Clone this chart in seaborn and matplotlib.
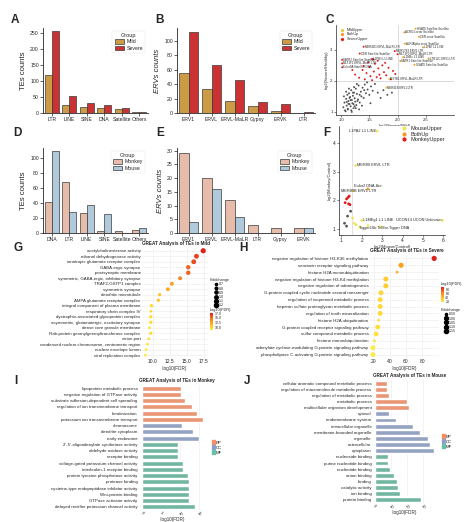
import numpy as np
import pandas as pd
import matplotlib
matplotlib.use("Agg")
import matplotlib.pyplot as plt
import seaborn as sns
from matplotlib.colors import LinearSegmentedColormap, Normalize
from matplotlib.cm import ScalarMappable
from matplotlib.lines import Line2D
from matplotlib.patches import Patch

sns.set_theme(style="ticks")
plt.rcParams["font.family"] = ["Liberation Sans", "DejaVu Sans"]

# ---------------- data ----------------
# A
te_types = ["LTR", "LINE", "SINE", "DNA", "Satellite", "Others"]
te_mild = [120, 25, 18, 15, 12, 2]
te_severe = [255, 52, 31, 24, 16, 3]
# B
erv_types = ["ERV1", "ERVL", "ERVL-MaLR", "Gypsy", "ERVK", "LTR"]
erv_mild = [56, 33, 17, 10, 3, 0]
erv_severe = [112, 66, 46, 15, 12, 1]
# D
sp_te_types = ["DNA", "LTR", "LINE", "SINE", "Satellite", "Others"]
te_monkey = [41, 68, 27, 3, 2, 4]
te_mouse = [109, 28, 37, 25, 0, 6]
# E
sp_erv_types = ["ERV1", "ERVL", "ERVL-MaLR", "LTR", "Gypsy", "ERVK"]
erv_monkey = [29, 20, 12, 3, 2, 2]
erv_mouse = [4, 16, 6, 0, 0, 2]

# C scatter
c_gray_x = [1.04, 1.06, 1.07, 1.09, 1.10, 1.11, 1.12, 1.13, 1.14, 1.15, 1.16, 1.17, 1.18, 1.19, 1.20,
            1.21, 1.22, 1.23, 1.24, 1.25, 1.26, 1.27, 1.28, 1.30, 1.31, 1.33, 1.35, 1.36, 1.38, 1.40,
            1.42, 1.44, 1.47, 1.50, 1.53, 1.56, 1.60, 1.65, 1.08, 1.12, 1.15, 1.19, 1.22, 1.26, 1.29,
            1.33, 1.37, 1.41, 1.10, 1.14, 1.18, 1.21, 1.24, 1.28, 1.32, 1.05, 1.09, 1.13, 1.17, 1.23,
            1.70, 1.75, 1.82, 1.90, 1.46, 1.52]
c_gray_y = [1.15, 1.30, 1.05, 1.42, 1.20, 1.55, 1.10, 1.35, 1.60, 1.25, 1.48, 1.18, 1.70, 1.38, 1.28,
            1.52, 1.12, 1.62, 1.44, 1.33, 1.75, 1.22, 1.58, 1.40, 1.85, 1.30, 1.65, 1.50, 1.78, 1.45,
            1.88, 1.60, 1.72, 1.55, 1.82, 1.68, 1.90, 1.62, 1.02, 1.08, 1.45, 1.00, 1.25, 1.12, 1.35,
            1.55, 1.20, 1.70, 1.32, 1.75, 1.05, 1.62, 1.18, 1.90, 1.08, 1.50, 1.65, 1.26, 1.38, 1.80,
            1.45, 1.70, 1.55, 1.62, 1.95, 1.28]
c_red_x = [1.32, 1.38, 1.42, 1.45, 1.50, 1.52, 1.55, 1.58, 1.60, 1.63, 1.66, 1.68, 1.70, 1.73, 1.76,
           1.80, 1.84, 1.88, 1.92, 1.96, 1.48, 1.57, 1.65, 1.78, 1.40, 1.25, 1.20]
c_red_y = [2.10, 2.35, 2.05, 2.25, 2.45, 2.15, 2.02, 2.30, 2.55, 2.12, 2.40, 2.20, 2.08, 2.50, 2.28,
           2.18, 2.42, 2.05, 2.32, 2.22, 2.60, 2.70, 2.65, 2.58, 2.48, 2.20, 2.35]
c_lab_x = [2.32, 2.12, 2.38, 2.13, 2.45, 1.40, 1.95, 1.33, 2.00, 2.10, 2.05, 2.55, 2.30, 1.02, 1.55,
           1.02, 1.02, 1.85, 1.80]
c_lab_y = [3.68, 3.56, 3.42, 3.20, 3.08, 3.10, 2.96, 2.88, 2.86, 2.76, 2.64, 2.72, 2.52, 2.68, 2.70,
           2.56, 2.44, 2.06, 1.78]
c_lab_text = ["HSATII Satellite Satellite", "ACRO1 centr Satellite", "CER centr Satellite",
              "ALR/Alpha centr Satellite", "L1PA7 L1 LINE", "MER4D1 ERVL-MaLR LTR", "MER57E3 ERV1 LTR",
              "CER Satellite Satellite", "MLT1F2 ERVL-MaLR LTR", "L1MEc L1 LINE", "SATR1 Satellite Satellite",
              "LTR12C ERV1 LTR", "GSATII Satellite Satellite", "SATR2 Satellite Satellite", "L1PB1 L1 LINE",
              "MLT1F1 ERVL-MaLR LTR", "Eulor9A Satellite DNA", "MSTB1 ERVL-MaLR LTR", "MER41B ERV1 LTR"]
c_lab_group = ["BothUp", "BothUp", "BothUp", "BothUp", "BothUp", "SevereUpper", "SevereUpper",
               "SevereUpper", "SevereUpper", "BothUp", "BothUp", "BothUp", "BothUp", "SevereUpper",
               "SevereUpper", "SevereUpper", "SevereUpper", "MildUpper", "MildUpper"]

# F scatter
f_gray_x = [1.30, 1.15, 1.25, 1.45]
f_gray_y = [1.45, 1.20, 1.10, 1.62]
f_red_x = [1.25, 1.32, 1.38, 1.18, 1.35, 1.42]
f_red_y = [2.05, 2.10, 2.15, 1.92, 1.88, 1.85]
f_yel_x = [2.75, 1.70, 1.55, 1.55, 1.62, 1.72, 2.30, 2.90, 5.95, 2.00, 1.90]
f_yel_y = [4.42, 3.22, 2.33, 1.38, 1.20, 1.15, 1.12, 1.08, 1.30, 1.30, 1.06]
f_both_x = [2.30]
f_both_y = [2.40]
f_lab_x = [2.70, 1.75, 2.30, 1.00, 5.90, 2.05, 1.85]
f_lab_y = [4.42, 3.22, 2.50, 2.33, 1.30, 1.30, 1.04]
f_lab_ha = ["right", "left", "center", "left", "right", "left", "left"]
f_lab_text = ["L1PA2 L1 LINE", "MER89 ERVL LTR", "Eulor2 DNA-like", "MER89B ERV1 LTR",
              "UCON14 UCON Unknown", "L1MEg1 L1 LINE", "Tigger16b TcMar-Tigger DNA"]

# G dot plot
g_terms = ["acetylcholinesterase activity", "ethanol dehydrogenase activity",
           "ionotropic glutamate receptor complex", "GABA-ergic synapse", "postsynaptic membrane",
           "symmetric, GABA-ergic, inhibitory synapse", "TRAF2-GSTP1 complex", "symmetric synapse",
           "dendritic microtubule", "AMPA glutamate receptor complex",
           "integral component of plasma membrane", "respiratory chain complex IV",
           "dystrophin-associated glycoprotein complex", "asymmetric, glutamatergic, excitatory synapse",
           "dense core granule membrane", "Rab-protein geranylgeranyltransferase complex", "virion part",
           "condensed nuclear chromosome, centromeric region", "nuclear envelope lumen",
           "viral replication complex"]
g_fdr = [17.4, 16.4, 16.0, 15.2, 15.2, 14.0, 12.8, 12.2, 11.0, 10.8, 9.8, 9.7, 9.7, 9.7, 9.5, 9.7,
         9.4, 9.2, 9.0, 8.9]
g_fold = [1.2, 1.1, 1.1, 1.0, 1.0, 0.9, 0.9, 0.9, 0.8, 0.8, 0.8, 0.7, 0.8, 0.8, 0.7, 0.8, 0.7, 0.7,
          0.7, 0.7]

# H dot plot
h_terms = ["negative regulation of histone H3-K36 methylation", "serotonin receptor signaling pathway",
           "histone H2A monoubiquitination", "negative regulation of histone H3-K4 methylation",
           "negative regulation of odontogenesis",
           "G-protein coupled cyclic nucleotide second messenger",
           "regulation of isoprenoid metabolic process", "heparan sulfate proteoglycan metabolic process",
           "regulation of tooth mineralization", "histone H2A ubiquitination",
           "G-protein coupled receptor signaling pathway", "sulfur compound metabolic process",
           "histone monoubiquitination", "adenylate cyclase-modulating G-protein signaling pathway",
           "phospholipase C-activating G-protein signaling pathway"]
h_fdr = [95, 54, 49, 35, 35, 29, 28, 28, 28, 26, 25, 23, 21, 19, 19]
h_fold = [1.15, 1.15, 0.50, 1.10, 1.10, 1.05, 1.05, 1.05, 1.05, 0.50, 1.00, 1.00, 0.50, 1.00, 1.00]

# I bars
i_terms = ["lipoprotein metabolic process", "negative regulation of GTPase activity",
           "substrate adhesion-dependent cell spreading", "regulation of ion transmembrane transport",
           "keratinization", "potassium ion transmembrane transport", "chromosome", "dendrite cytoplasm",
           "early endosome", "2'-5'-oligoadenylate synthetase activity", "aldehyde oxidase activity",
           "receptor binding", "voltage-gated potassium channel activity", "interleukin-1 receptor binding",
           "protein tyrosine phosphatase activity", "protease binding",
           "cysteine-type endopeptidase inhibitor activity", "Wnt-protein binding",
           "GTPase activator activity", "delayed rectifier potassium channel activity"]
i_vals = [10.3, 10.3, 11.3, 13.3, 14.5, 16.1, 10.5, 13.4, 15.0, 9.6, 9.6, 9.6, 10.7, 10.9, 12.1,
          12.3, 12.5, 12.5, 12.5, 14.0]
i_cat = ["BP"] * 6 + ["CC"] * 3 + ["MF"] * 11

# J bars
j_terms = ["cellular aromatic compound metabolic process", "regulation of macromolecule metabolic process",
           "regulation of metabolic process", "metabolic process", "multicellular organism development",
           "cytosol", "endomembrane system", "intracellular organelle", "membrane-bounded organelle",
           "organelle", "extracellular", "cytoplasm", "nucleoside binding", "purine nucleotide binding",
           "nucleotide binding", "anion binding", "binding", "catalytic activity", "ion binding",
           "protein binding"]
j_vals = [7.6, 7.6, 8.6, 19.8, 21.0, 8.6, 13.1, 23.5, 28.0, 33.0, 34.2, 36.2, 8.2, 8.2, 9.2, 12.1,
          13.7, 14.5, 15.4, 28.5]
j_cat = ["BP"] * 5 + ["CC"] * 7 + ["MF"] * 8

# ---------------- helpers ----------------
W, H = 474, 522


def rect(x0, y0, x1, y1):
    return [x0 / W, 1 - y1 / H, (x1 - x0) / W, (y1 - y0) / H]


def count_bars(ax, cats, a, b, names, colors, ylabel, ylim, yticks, italic=False):
    df = pd.DataFrame({"type": cats * 2, "count": a + b,
                       "Group": [names[0]] * len(cats) + [names[1]] * len(cats)})
    sns.barplot(data=df, x="type", y="count", hue="Group", palette=colors, ax=ax,
                edgecolor="#3a3a3a", linewidth=0.5, width=0.8)
    ax.set_ylim(*ylim)
    ax.set_yticks(yticks)
    ax.set_xlabel("")
    ax.set_ylabel(ylabel, fontsize=5.5, style="italic" if italic else "normal", labelpad=2)
    ax.tick_params(labelsize=3.7, length=2, width=0.5, pad=1)
    for s in ["left", "bottom"]:
        ax.spines[s].set_linewidth(0.6)
    sns.despine(ax=ax)
    leg = ax.legend(title="Group", fontsize=3.8, title_fontsize=4, loc="upper right",
                    frameon=True, handlelength=1.8, handleheight=0.8, borderpad=0.4,
                    labelspacing=0.3, handletextpad=0.5)
    leg.get_frame().set_linewidth(0.3)
    leg.get_frame().set_edgecolor("#dddddd")


def dotplot(ax, terms, vals, folds, vmin, vmax, xlim, xticks, title):
    df = pd.DataFrame({"term": terms, "val": vals, "fold": folds})
    sns.scatterplot(data=df, x="val", y="term", hue="val", hue_norm=(vmin, vmax), palette=dot_cmap,
                    size="fold", sizes=(4, 14), ax=ax, legend=False, edgecolor="none")
    ax.set_ylim(len(terms) - 0.5, -0.5)
    ax.set_xlim(*xlim)
    ax.set_xticks(xticks)
    ax.set_xlabel("-log10(FDR)", fontsize=3.3, labelpad=1)
    ax.set_ylabel("")
    ax.tick_params(axis="y", labelsize=3.2, length=0, pad=1)
    ax.tick_params(axis="x", labelsize=3.6, length=0, pad=1)
    ax.grid(True, color="#ebebeb", linewidth=0.4)
    ax.set_axisbelow(True)
    for s in ax.spines.values():
        s.set_visible(False)
    ax.set_title(title, fontsize=3.3, fontweight="bold", loc="left", pad=2)


def go_bars(ax, terms, vals, cats, xlim, xticks, title):
    df = pd.DataFrame({"term": terms, "val": vals, "cat": cats})
    sns.barplot(data=df, y="term", x="val", hue="cat", palette=go_pal, dodge=False, width=0.8,
                ax=ax, legend=False)
    ax.set_xlim(*xlim)
    ax.set_xticks(xticks)
    ax.set_xlabel("-log10(FDR)", fontsize=3.3, labelpad=0)
    ax.set_ylabel("")
    ax.tick_params(axis="y", labelsize=3.2, length=0, pad=1)
    ax.tick_params(axis="x", labelsize=3.0, length=0, pad=0.5)
    for lab in ax.get_xticklabels():
        lab.set_rotation(-45)
    ax.grid(True, axis="x", color="#ebebeb", linewidth=0.4)
    ax.set_axisbelow(True)
    for s in ax.spines.values():
        s.set_visible(False)
    ax.set_title(title, fontsize=3.3, fontweight="bold", loc="left", pad=2)
    handles = [Patch(color=go_pal[k], label=k) for k in ["BP", "CC", "MF"]]
    ax.legend(handles=handles, loc="center left", bbox_to_anchor=(1.01, 0.5), fontsize=3.2,
              frameon=False, handlelength=0.7, handleheight=0.7, labelspacing=0.2,
              handletextpad=0.3)


dot_cmap = LinearSegmentedColormap.from_list("dots", ["#FFEA3F", "#FDB827", "#F47A20", "#E0201B"])
go_pal = {"BP": "#FC8D62", "CC": "#8DA0CB", "MF": "#66C2A5"}
scatter_pal = {"Other": "#555555", "MildUpper": "#EBC83A", "BothUp": "#F39A1E", "SevereUpper": "#E3191C"}

fig = plt.figure(figsize=(W / 100, H / 100), dpi=100)
fig.patch.set_facecolor("white")

# A
axA = fig.add_axes(rect(43, 28, 148, 113))
count_bars(axA, te_types, te_mild, te_severe, ["Mild", "Severe"], ["#E3A12F", "#E3191C"],
           "TEs counts", (0, 265), [0, 50, 100, 150, 200, 250])
# B
axB = fig.add_axes(rect(177, 28, 315, 113))
count_bars(axB, erv_types, erv_mild, erv_severe, ["Mild", "Severe"], ["#E3A12F", "#E3191C"],
           "ERVs counts", (0, 118), [0, 20, 40, 60, 80, 100], italic=True)
# D
axD = fig.add_axes(rect(43, 148, 148, 233))
count_bars(axD, sp_te_types, te_monkey, te_mouse, ["Monkey", "Mouse"], ["#F2B7A0", "#A9CBE3"],
           "TEs counts", (0, 113), [0, 20, 40, 60, 80, 100])
# E
axE = fig.add_axes(rect(177, 148, 315, 233))
count_bars(axE, sp_erv_types, erv_monkey, erv_mouse, ["Monkey", "Mouse"], ["#F2B7A0", "#A9CBE3"],
           "ERVs counts", (0, 31), [0, 5, 10, 15, 20, 25, 30], italic=True)

# C
axC = fig.add_axes(rect(336, 25, 454, 115))
dfC = pd.DataFrame({
    "x": c_gray_x + c_red_x + c_lab_x,
    "y": c_gray_y + c_red_y + c_lab_y,
    "grp": ["Other"] * len(c_gray_x) + ["SevereUpper"] * len(c_red_x) + c_lab_group,
})
axC.axvline(2.0, color="#cccccc", linewidth=0.5, zorder=0)
axC.axhline(2.0, color="#cccccc", linewidth=0.5, zorder=0)
sns.scatterplot(data=dfC, x="x", y="y", hue="grp", palette=scatter_pal, s=2, linewidth=0,
                ax=axC, legend=False)
for x, y, t in zip(c_lab_x, c_lab_y, c_lab_text):
    axC.text(x + 0.02, y, t, fontsize=2.1, va="center", ha="left")
axC.set_xlim(0.91, 3.0)
axC.set_ylim(0.9, 3.8)
axC.set_xticks([1.0, 1.5, 2.0, 2.5])
axC.set_yticks([1, 2, 3])
axC.set_xlabel("log2(Severe/Mild)", fontsize=3, labelpad=1)
axC.set_ylabel("log2(Severe/Healthy)", fontsize=3, labelpad=1)
axC.tick_params(labelsize=3, length=1.5, width=0.4, pad=1)
for s in ["left", "bottom"]:
    axC.spines[s].set_linewidth(0.5)
sns.despine(ax=axC)
hC = [Line2D([], [], marker="o", ls="", color=scatter_pal[k], markersize=1.3, label=k)
      for k in ["MildUpper", "BothUp", "SevereUpper"]]
axC.legend(handles=hC, loc="upper left", fontsize=2.6, frameon=False, handletextpad=0.2,
           labelspacing=0.15, borderpad=0.3)

# F
axF = fig.add_axes(rect(339, 126, 445, 235))
dfF = pd.DataFrame({
    "x": f_gray_x + f_red_x + f_yel_x + f_both_x,
    "y": f_gray_y + f_red_y + f_yel_y + f_both_y,
    "grp": ["Other"] * len(f_gray_x) + ["MonkeyUpper"] * len(f_red_x)
           + ["MouseUpper"] * len(f_yel_x) + ["BothUp"] * len(f_both_x),
})
pal_F = {"Other": "#555555", "MouseUpper": "#F2E35A", "BothUp": "#F39A1E", "MonkeyUpper": "#E3191C"}
axF.axvline(1.5, color="#dddddd", linewidth=0.6, zorder=0)
sns.scatterplot(data=dfF, x="x", y="y", hue="grp", palette=pal_F, s=4, linewidth=0, ax=axF,
                legend=False)
for x, y, t, ha in zip(f_lab_x, f_lab_y, f_lab_text, f_lab_ha):
    axF.text(x, y, t, fontsize=2.8, va="center", ha=ha)
axF.set_xlim(0.88, 6.08)
axF.set_ylim(0.79, 4.6)
axF.set_xticks([1, 2, 3, 4, 5, 6])
axF.set_yticks([1, 2, 3, 4])
axF.set_xlabel("log2(Mouse/Control)", fontsize=3, labelpad=1)
axF.set_ylabel("log2(Monkey/Control)", fontsize=3, labelpad=1)
axF.tick_params(labelsize=3.5, length=1.5, width=0.4, pad=1)
for s in ["left", "bottom"]:
    axF.spines[s].set_linewidth(0.5)
sns.despine(ax=axF)
hF = [Line2D([], [], marker="o", ls="", color=pal_F[k], markersize=2, label=k)
      for k in ["MouseUpper", "BothUp", "MonkeyUpper"]]
axF.legend(handles=hF, loc="upper right", fontsize=4, frameon=False, handletextpad=0.2,
           labelspacing=0.1, borderpad=0.1, bbox_to_anchor=(1.03, 1.03))

# G
axG = fig.add_axes(rect(142, 248, 208, 358))
dotplot(axG, g_terms, g_fdr, g_fold, 8.9, 17.4, (8.4, 18.1), [10.0, 12.5, 15.0, 17.5],
        "GREAT Analysis of TEs in Mild")
axG.set_xticklabels(["10.0", "12.5", "15.0", "17.5"])
sz_vals = [0.7, 0.8, 0.9, 1.0, 1.1, 1.2]
hG = [Line2D([], [], marker="o", ls="", color="black",
             markersize=np.sqrt(4 + (v - 0.7) / 0.5 * 10) * 0.8, label=f"{v:.1f}") for v in sz_vals]
fig.legend(handles=hG, title="Foldchange", loc="upper left", bbox_to_anchor=(207 / W, 1 - 276 / H),
           fontsize=2.6, title_fontsize=2.8, frameon=False, labelspacing=0.05, handletextpad=0.2,
           borderpad=0.1, handlelength=1)
caxG = fig.add_axes(rect(210, 313, 213, 330))
cbG = fig.colorbar(ScalarMappable(Normalize(8.9, 17.4), dot_cmap), cax=caxG)
cbG.set_ticks([10, 12.5, 15, 17])
cbG.ax.tick_params(labelsize=2.6, length=0, pad=1)
cbG.outline.set_visible(False)
caxG.set_title("-log10(FDR)", fontsize=2.8, pad=1.5, loc="left")

# H
axH = fig.add_axes(rect(370, 255, 439, 358))
dotplot(axH, h_terms, h_fdr, h_fold, 19, 95, (15.4, 101), [20, 40, 60, 80],
        "GREAT Analysis of TEs in Severe")
caxH = fig.add_axes(rect(441, 287, 444, 302))
cbH = fig.colorbar(ScalarMappable(Normalize(19, 95), dot_cmap), cax=caxH)
cbH.set_ticks([20, 40, 60, 80])
cbH.ax.tick_params(labelsize=2.6, length=0, pad=1)
cbH.outline.set_visible(False)
caxH.set_title("-log10(FDR)", fontsize=2.8, pad=1.5, loc="left")
h_sz = [0.50, 1.00, 1.05, 1.10, 1.15]
hH = [Line2D([], [], marker="o", ls="", color="black",
             markersize=np.sqrt(4 + (v - 0.5) / 0.65 * 10) * 0.8, label=f"{v:.2f}") for v in h_sz]
fig.legend(handles=hH, title="Foldchange", loc="upper left", bbox_to_anchor=(438 / W, 1 - 306 / H),
           fontsize=2.6, title_fontsize=2.8, frameon=False, labelspacing=0.05, handletextpad=0.2,
           borderpad=0.1, handlelength=1)

# I
axI = fig.add_axes(rect(139, 385, 207, 510))
go_bars(axI, i_terms, i_vals, i_cat, (-0.9, 17.2), [0, 5, 10, 15], "GREAT Analysis of TEs in Monkey")
# J
axJ = fig.add_axes(rect(373, 380, 437, 503))
go_bars(axJ, j_terms, j_vals, j_cat, (-1.0, 38.3), [0, 10, 20, 30], "GREAT Analysis of TEs in Mouse")

# panel letters
for lab, (px, py) in {"A": (15, 20), "B": (160, 20), "C": (330, 20), "D": (17, 133), "E": (160, 133),
                      "F": (327, 133), "G": (18, 248), "H": (243, 248), "I": (16, 381),
                      "J": (247, 381)}.items():
    fig.text(px / W, 1 - py / H, lab, fontsize=8.5, fontweight="bold", va="center", ha="center")

fig.savefig("out.png", dpi=100, facecolor="white")
